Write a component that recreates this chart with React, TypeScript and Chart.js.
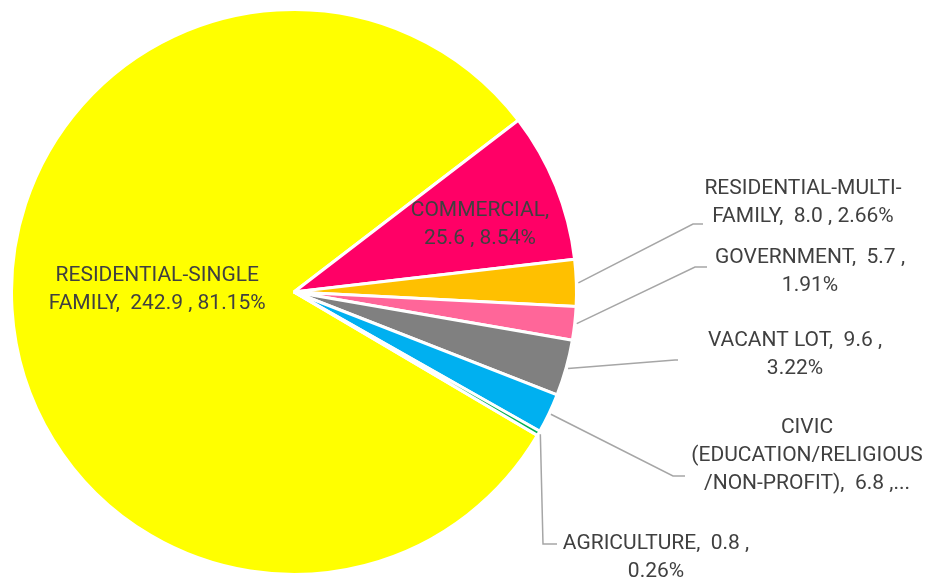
import React, { useEffect, useRef } from "react";
import { Chart, registerables } from "chart.js";

Chart.register(...registerables);

const categories = [
  "RESIDENTIAL-SINGLE FAMILY",
  "COMMERCIAL",
  "RESIDENTIAL-MULTI-FAMILY",
  "GOVERNMENT",
  "VACANT LOT",
  "CIVIC (EDUCATION/RELIGIOUS /NON-PROFIT)",
  "AGRICULTURE",
];
const values = [242.9, 25.6, 8.0, 5.7, 9.6, 6.8, 0.8];
const percentLabels = ["81.15%", "8.54%", "2.66%", "1.91%", "3.22%", "2.26%", "0.26%"];
const labelLines = [
  ["RESIDENTIAL-SINGLE", "FAMILY,  242.9 , 81.15%"],
  ["COMMERCIAL,", "25.6 , 8.54%"],
  ["RESIDENTIAL-MULTI-", "FAMILY,  8.0 , 2.66%"],
  ["GOVERNMENT,  5.7 ,", "1.91%"],
  ["VACANT LOT,  9.6 ,", "3.22%"],
  ["CIVIC", "(EDUCATION/RELIGIOUS", "/NON-PROFIT),  6.8 ,..."],
  ["AGRICULTURE,  0.8 ,", "0.26%"],
];
const colors = ["#FFFF00", "#FF0066", "#FFC000", "#FF6699", "#808080", "#00B0F0", "#00B050"];

type Layout =
  | { inside: true; f: number; dx: number; dy: number }
  | { inside: false; x: number; y: number; elbow: [number, number]; end: [number, number] };

const labelLayout: Layout[] = [
  { inside: true, f: 0.485, dx: 0, dy: -10.5 },
  { inside: true, f: 0.71, dx: 0, dy: 7.6 },
  { inside: false, x: 803, y: 203, elbow: [693, 224], end: [703, 224] },
  { inside: false, x: 810, y: 272, elbow: [695, 267], end: [707, 267] },
  { inside: false, x: 795, y: 355, elbow: [675, 360], end: [678, 360] },
  { inside: false, x: 807, y: 456, elbow: [673, 476], end: [685, 476] },
  { inside: false, x: 656, y: 558, elbow: [543, 544], end: [557, 544] },
];

const labelPlugin = {
  id: "sliceLabels",
  afterDatasetsDraw(chart: any) {
    const ctx = chart.ctx as CanvasRenderingContext2D;
    const meta = chart.getDatasetMeta(0);
    ctx.save();
    ctx.font = "21px Roboto";
    ctx.fillStyle = "#404040";
    ctx.textAlign = "center";
    ctx.textBaseline = "middle";
    ctx.strokeStyle = "#A6A6A6";
    ctx.lineWidth = 1.5;
    meta.data.forEach((arc: any, i: number) => {
      const p = arc.getProps(["x", "y", "startAngle", "endAngle", "outerRadius"], true);
      const mid = (p.startAngle + p.endAngle) / 2;
      const L = labelLayout[i];
      let cx: number;
      let cy: number;
      if (L.inside) {
        cx = p.x + Math.cos(mid) * p.outerRadius * L.f + L.dx;
        cy = p.y + Math.sin(mid) * p.outerRadius * L.f + L.dy;
      } else {
        const sx = p.x + Math.cos(mid) * (p.outerRadius + 2);
        const sy = p.y + Math.sin(mid) * (p.outerRadius + 2);
        ctx.beginPath();
        ctx.moveTo(sx, sy);
        ctx.lineTo(L.elbow[0], L.elbow[1]);
        ctx.lineTo(L.end[0], L.end[1]);
        ctx.stroke();
        cx = L.x;
        cy = L.y;
      }
      const lines = labelLines[i];
      const lh = 28;
      lines.forEach((t, k) => {
        ctx.fillText(t, cx, cy + (k - (lines.length - 1) / 2) * lh);
      });
    });
    ctx.restore();
  },
};

export default function App() {
  const ref = useRef<HTMLCanvasElement | null>(null);
  useEffect(() => {
    document.body.style.margin = "0";
    if (!ref.current) return;
    const chart = new Chart(ref.current, {
      type: "pie",
      data: {
        labels: categories.map((c, i) => c + " " + percentLabels[i]),
        datasets: [
          {
            data: values,
            backgroundColor: colors,
            borderColor: "#FFFFFF",
            borderWidth: 3,
            radius: 282.5,
          } as any,
        ],
      },
      options: {
        animation: false,
        responsive: false,
        devicePixelRatio: 1,
        rotation: 120.5,
        layout: { padding: { left: 0, right: 343, top: 3, bottom: 0 } },
        plugins: {
          legend: { display: false },
          tooltip: { enabled: false },
        },
      },
      plugins: [labelPlugin],
    });
    (document as any).fonts?.load?.("21px Roboto").then(() => chart.update());
    return () => chart.destroy();
  }, []);
  return (
    <div style={{ width: 931, height: 581, background: "#fff" }}>
      <canvas ref={ref} width={931} height={581} style={{ display: "block" }} />
    </div>
  );
}
